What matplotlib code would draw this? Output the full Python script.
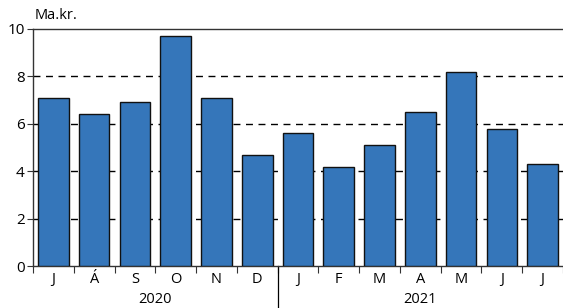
import matplotlib.pyplot as plt
import numpy as np

months = ['J', 'Á', 'S', 'O', 'N', 'D', 'J', 'F', 'M', 'A', 'M', 'J', 'J']
values = [7.1, 6.4, 6.9, 9.7, 7.1, 4.7, 5.6, 4.2, 5.1, 6.5, 8.2, 5.8, 4.3]
years = ['2020', '2021']
year_counts = [6, 7]

plt.rcParams['font.family'] = ['Open Sans', 'DejaVu Sans']

fig = plt.figure(figsize=(5.63, 3.08), dpi=100)
ax = fig.add_axes([0.0586, 0.136, 0.9414, 0.77])

x = np.arange(len(values))
ax.bar(x, values, width=0.75, color='#3576ba', edgecolor='#111111', linewidth=1.0, zorder=3)

ax.set_xlim(-0.5, len(values) - 0.5)
ax.set_ylim(0, 10)
ax.set_yticks([0, 2, 4, 6, 8, 10])
for g in [2, 4, 6, 8]:
    ax.axhline(g, color='black', linestyle=(0, (5, 4)), linewidth=1.0, zorder=1)

# month labels centered, ticks on boundaries
ax.set_xticks(np.arange(-0.5, len(values), 1.0))
ax.set_xticklabels([])
ax.set_xticks(x, minor=True)
ax.set_xticklabels(months, minor=True)
ax.tick_params(axis='x', which='major', direction='out', length=5, width=0.8, color='#333333')
ax.tick_params(axis='x', which='minor', length=0, pad=4, labelsize=10.5)
ax.tick_params(axis='y', direction='out', length=4, width=0.8, labelsize=11, color='#333333', pad=2)

ax.spines['right'].set_visible(False)
for s in ['left', 'top', 'bottom']:
    ax.spines[s].set_color('#333333')
    ax.spines[s].set_linewidth(1.0)

# year labels and separator
start = 0
for yr, n in zip(years, year_counts):
    ax.text(start + (n - 1) / 2, -0.14, yr, transform=ax.get_xaxis_transform(),
            ha='center', va='center', fontsize=10.5)
    start += n
sep = year_counts[0] - 0.5
ax.plot([sep, sep], [0, -0.18], transform=ax.get_xaxis_transform(), color='black',
        linewidth=0.9, clip_on=False)

fig.text(0.062, 0.95, 'Ma.kr.', ha='left', va='center', fontsize=10.5)

fig.savefig('out.png', dpi=100)
